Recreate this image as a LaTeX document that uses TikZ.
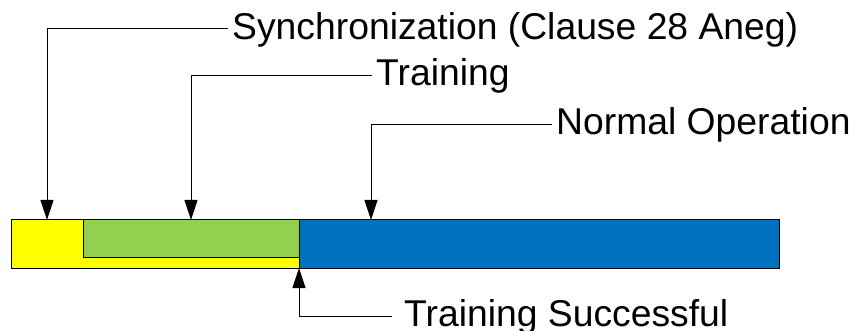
\documentclass[tikz,border=0pt]{standalone}
\usepackage{fontspec}
\setmainfont{Liberation Sans}
\usetikzlibrary{arrows.meta}
\definecolor{syncyellow}{HTML}{FFFF00}
\definecolor{traingreen}{HTML}{92D050}
\definecolor{opblue}{HTML}{0070C0}
\tikzset{
  phase/.style={draw=black, line width=1pt},
  lbl/.style={anchor=west, inner xsep=4pt, inner ysep=0pt,
    font=\fontsize{37.3}{40}\selectfont, text height=26.6pt, text depth=5.4pt},
  pointer/.style={line width=0.8pt, -{Triangle[width=13pt,length=20pt]}}
}
\begin{document}
\begin{tikzpicture}[x=1pt, y=-1pt]
  \useasboundingbox (0,0) rectangle (854,331);
  % phase bar
  \path[phase, fill=syncyellow] (11,220) rectangle (299,268);
  \path[phase, fill=traingreen] (83,220) rectangle (299,257);
  \path[phase, fill=opblue] (299,220) rectangle (779,268);
  % arrow targets on the bar
  \coordinate (syncpt) at (47,220);
  \coordinate (trainpt) at (191,220);
  \coordinate (normpt) at (371,220);
  \coordinate (donept) at (299,268);
  % labels
  \node[lbl] (sync) at (228,28.5) {Synchronization (Clause 28 Aneg)};
  \node[lbl] (train) at (372,75) {Training};
  \node[lbl] (norm) at (552,124) {Normal Operation};
  \node[lbl, inner xsep=12pt] (done) at (392,316) {Training Successful};
  % pointers
  \draw[pointer] (sync.west) -| (syncpt);
  \draw[pointer] (train.west) -| (trainpt);
  \draw[pointer] (norm.west) -| (normpt);
  \draw[pointer] (done.west) -| (donept);
\end{tikzpicture}
\end{document}
